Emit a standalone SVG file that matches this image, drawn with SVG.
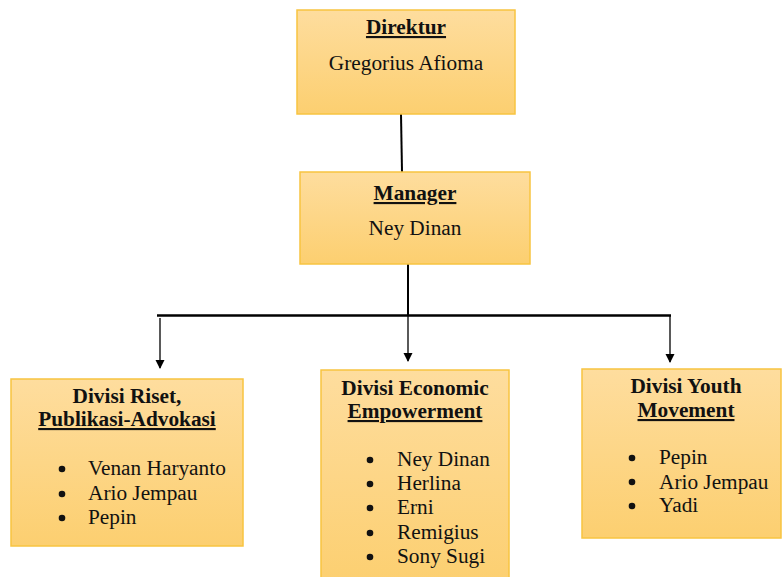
<svg xmlns="http://www.w3.org/2000/svg" width="782" height="577" viewBox="0 0 782 577">
<defs>
<linearGradient id="g" x1="0" y1="0" x2="0" y2="1">
<stop offset="0" stop-color="#FEDD9E"/>
<stop offset="1" stop-color="#FCCF70"/>
</linearGradient>
<marker id="ah" markerWidth="10" markerHeight="10" refX="8" refY="5" orient="auto" markerUnits="userSpaceOnUse">
<path d="M0,0.5 L9,5 L0,9.5 Z" fill="#000"/>
</marker>
<style>
.box{fill:url(#g);stroke:#F8C440;stroke-width:1.5}
.t{font-family:"Liberation Serif","Times New Roman",serif;font-size:21.3px;fill:#111}
.b{font-weight:bold;text-anchor:middle}
.c{text-anchor:middle}
.u{text-decoration:underline}
.dot{fill:#111}
.ln{stroke:#000;fill:none}
</style>
</defs>
<g id="connectors">
<line class="ln" x1="401" y1="114" x2="402" y2="172" stroke-width="2"/>
<line class="ln" x1="408" y1="264" x2="408" y2="316" stroke-width="2"/>
<line class="ln" x1="157" y1="315.5" x2="671" y2="315.5" stroke-width="2.5"/>
<line class="ln" x1="160" y1="318" x2="160" y2="368" stroke-width="1.3" marker-end="url(#ah)"/>
<line class="ln" x1="408" y1="316" x2="408" y2="361" stroke-width="1.3" marker-end="url(#ah)"/>
<line class="ln" x1="670" y1="316" x2="670" y2="362" stroke-width="1.3" marker-end="url(#ah)"/>
</g>
<g id="direktur">
<rect class="box" x="297" y="10" width="218" height="104"/>
<text class="t b u" x="406" y="34">Direktur</text>
<text class="t c" x="406" y="70">Gregorius Afioma</text>
</g>
<g id="manager">
<rect class="box" x="300" y="172" width="230" height="92"/>
<text class="t b u" x="415" y="200">Manager</text>
<text class="t c" x="415" y="235">Ney Dinan</text>
</g>
<g id="riset">
<rect class="box" x="11" y="379" width="232" height="167"/>
<text class="t b" x="127" y="403">Divisi Riset,</text>
<text class="t b u" x="127" y="426">Publikasi-Advokasi</text>
<circle class="dot" cx="62" cy="469" r="3.3"/>
<circle class="dot" cx="62" cy="494" r="3.3"/>
<circle class="dot" cx="62" cy="518" r="3.3"/>
<text class="t" x="88" y="475">Venan Haryanto</text>
<text class="t" x="88" y="500">Ario Jempau</text>
<text class="t" x="88" y="524">Pepin</text>
</g>
<g id="economic">
<rect class="box" x="321" y="370" width="188" height="215"/>
<text class="t b" x="415" y="395">Divisi Economic</text>
<text class="t b u" x="415" y="418">Empowerment</text>
<circle class="dot" cx="370" cy="460" r="3.3"/>
<circle class="dot" cx="370" cy="484" r="3.3"/>
<circle class="dot" cx="370" cy="508" r="3.3"/>
<circle class="dot" cx="370" cy="533" r="3.3"/>
<circle class="dot" cx="370" cy="557" r="3.3"/>
<text class="t" x="397" y="466">Ney Dinan</text>
<text class="t" x="397" y="490">Herlina</text>
<text class="t" x="397" y="514">Erni</text>
<text class="t" x="397" y="539">Remigius</text>
<text class="t" x="397" y="563">Sony Sugi</text>
</g>
<g id="youth">
<rect class="box" x="582" y="369" width="199" height="169"/>
<text class="t b" x="686" y="393">Divisi Youth</text>
<text class="t b u" x="686" y="417">Movement</text>
<circle class="dot" cx="632" cy="458" r="3.3"/>
<circle class="dot" cx="632" cy="482" r="3.3"/>
<circle class="dot" cx="632" cy="506" r="3.3"/>
<text class="t" x="659" y="464">Pepin</text>
<text class="t" x="659" y="489">Ario Jempau</text>
<text class="t" x="659" y="512">Yadi</text>
</g>
</svg>
